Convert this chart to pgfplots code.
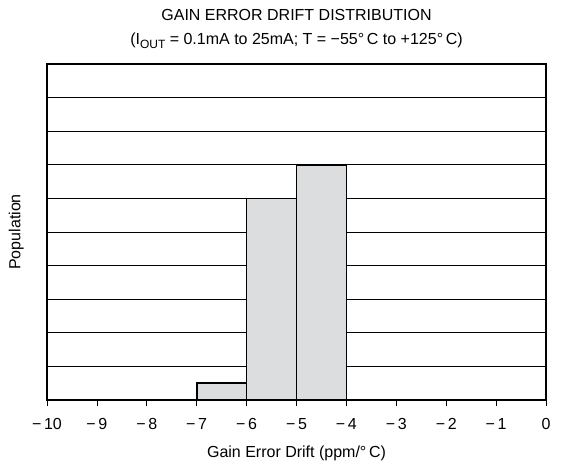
\documentclass[border=0pt]{standalone}
\usepackage{pgfplots}
\pgfplotsset{compat=1.18}
\usepackage{fontspec}
\setmainfont{Liberation Sans}
\definecolor{barfill}{HTML}{DCDDDF}
\begin{document}
\begin{tikzpicture}
\begin{axis}[
  scale only axis,
  width=499pt, height=336pt,
  xmin=-10, xmax=0, ymin=0, ymax=10,
  xtick={-10,-9,...,0},
  xticklabels={−\,10,−\,9,−\,8,−\,7,−\,6,−\,5,−\,4,−\,3,−\,2,−\,1,0},
  ytick={1,2,...,9},
  yticklabels={},
  ymajorgrids,
  grid style={black, line width=0.6pt},
  axis line style={line width=1.4pt},
  xtick pos=bottom,
  ytick style={draw=none},
  xtick style={line width=0.8pt, black},
  tick align=outside,
  major tick length=6pt,
  ticklabel style={font=\fontsize{16}{19}\selectfont},
  xticklabel style={yshift=-9pt},
  xlabel={\fontsize{16}{19}\selectfont Gain Error Drift (ppm/°\,C)},
  ylabel={\fontsize{16}{19}\selectfont Population},
  xlabel style={yshift=-9pt},
  ylabel style={yshift=7pt},
  title={\fontsize{16}{19}\selectfont GAIN ERROR DRIFT DISTRIBUTION\\[5pt]\fontsize{16}{19}\selectfont(I\raisebox{-3.5pt}{\fontsize{12}{14}\selectfont OUT} = 0.1mA to 25mA; T = −55°\,C to +125°\,C)},
  title style={align=center, yshift=6pt, font=\fontsize{16}{19}\selectfont},
]
\addplot[ybar interval, fill=barfill, draw=black, line width=1.6pt] coordinates {(-7,0.5) (-6,6) (-5,7) (-4,7)};
\end{axis}
\path (current axis.south west) ++(-47pt,-70pt) rectangle ([shift={(15pt,64pt)}]current axis.north east);
\end{tikzpicture}
\end{document}
